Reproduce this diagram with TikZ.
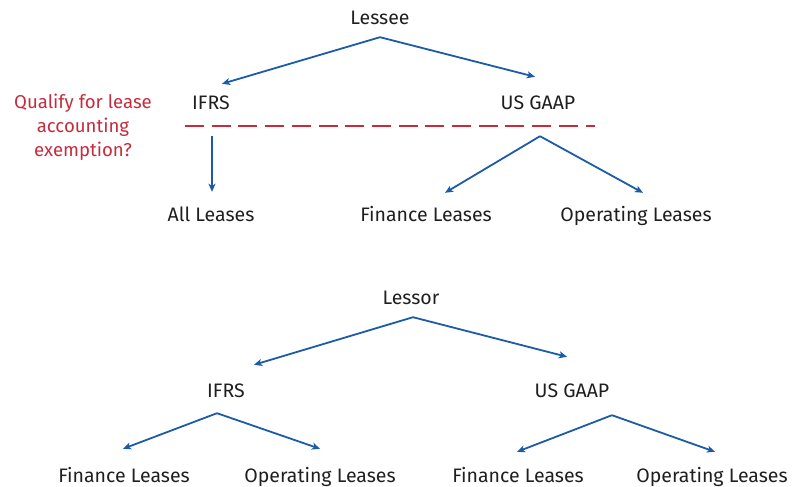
\documentclass[tikz,border=0pt]{standalone}
\usepackage{fontspec}
\setmainfont{Fira Sans}
\usetikzlibrary{arrows.meta,positioning}
\definecolor{linkblue}{RGB}{28,92,166}
\definecolor{askred}{RGB}{196,44,60}
\begin{document}
\begin{tikzpicture}[x=1pt,y=-1pt]
    \fontsize{19.5}{24}\selectfont
    \tikzstyle{lbl} = [text height=15.2pt, text depth=1.8pt, inner xsep=2pt,
    inner ysep=0pt, text=black!88]
    \tikzstyle{arr} = [draw=linkblue, line width=1.8pt,
    -{Stealth[length=8pt,width=7pt,inset=2pt]}]
    \useasboundingbox (0,0) rectangle (793,487);

    % lessee tree
    \path
    (380,18) node [lbl] (lessee) {Lessee}
    (211,103) node [lbl] (ifrsA) {IFRS}
    (538,103) node [lbl] (gaapA) {US GAAP}
    (211,215) node [lbl] (allA) {All Leases}
    (426,215) node [lbl] (finA) {Finance Leases}
    (636,215) node [lbl] (opA) {Operating Leases}
    (83,127) node [align=center, text=askred, font=\fontsize{18.6}{24}\selectfont] (ask)
        {Qualify for lease\\accounting\\exemption?}
    ;
    \draw [askred, line width=2.4pt, dash pattern=on 19pt off 7.7pt]
    (185,126) -- (595,126);

    \draw [arr] ([shift={(0,10.5)}]lessee.south) -- ([shift={(11,-10.5)}]ifrsA.north);
    \draw [arr] ([shift={(0,10.5)}]lessee.south) -- ([shift={(-3,-17.5)}]gaapA.north);
    \draw [arr] ([shift={(1,24.5)}]ifrsA.south) -- ([shift={(1,-14.5)}]allA.north);
    \draw [arr] ([shift={(2,24.5)}]gaapA.south) -- ([shift={(19,-13.5)}]finA.north);
    \draw [arr] ([shift={(2,24.5)}]gaapA.south) -- ([shift={(7,-13.5)}]opA.north);

    % lessor tree
    \path
    (411,298) node [lbl] (lessor) {Lessor}
    (226,391) node [lbl] (ifrsB) {IFRS}
    (572,391) node [lbl] (gaapB) {US GAAP}
    (124,476) node [lbl] (finB) {Finance Leases}
    (320,476) node [lbl] (opB) {Operating Leases}
    (518,476) node [lbl] (finC) {Finance Leases}
    (712,476) node [lbl] (opC) {Operating Leases}
    ;

    \draw [arr] ([shift={(2,10.5)}]lessor.south) -- ([shift={(28,-17.5)}]ifrsB.north);
    \draw [arr] ([shift={(2,10.5)}]lessor.south) -- ([shift={(-5,-25.5)}]gaapB.north);
    \draw [arr] ([shift={(-9,13.5)}]ifrsB.south) -- ([shift={(-1,-18.5)}]finB.north);
    \draw [arr] ([shift={(-9,13.5)}]ifrsB.south) -- ([shift={(0,-18.5)}]opB.north);
    \draw [arr] ([shift={(40,15.5)}]gaapB.south) -- ([shift={(-1,-15.5)}]finC.north);
    \draw [arr] ([shift={(40,15.5)}]gaapB.south) -- ([shift={(3,-15.5)}]opC.north);

\end{tikzpicture}
\end{document}
